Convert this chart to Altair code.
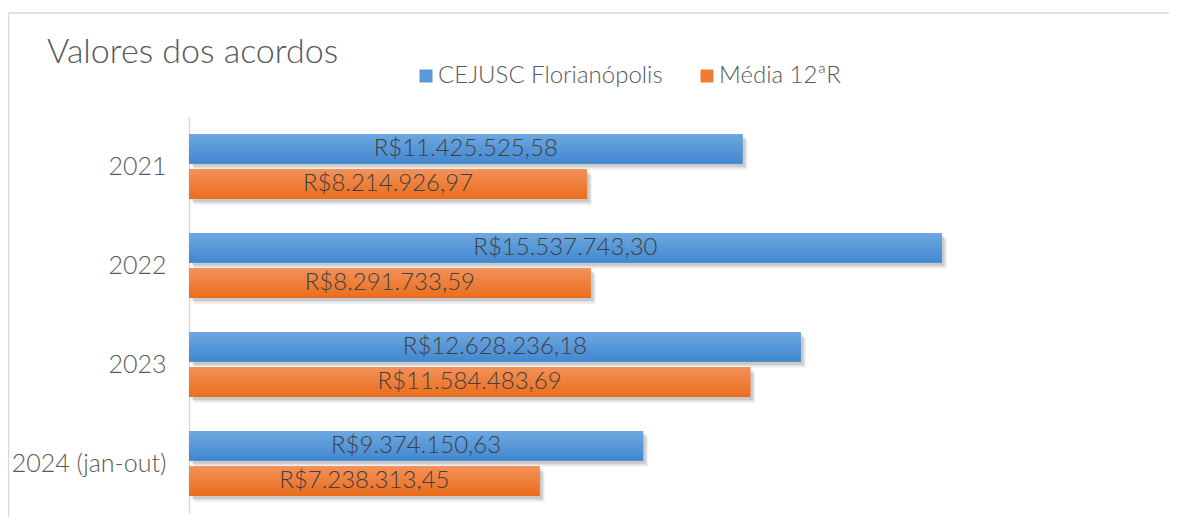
import altair as alt
import pandas as pd

years = ["2021", "2022", "2023", "2024 (jan-out)"]
series = ["CEJUSC Florianópolis", "Média 12ªR"]
cejusc = [11425525.58, 15537743.30, 12628236.18, 9374150.63]
media = [8214926.97, 8291733.59, 11584483.69, 7238313.45]
title_text = "Valores dos acordos"


def brl(v):
    s = f"{v:,.2f}".replace(",", "X").replace(".", ",").replace("X", ".")
    return "R$" + s


rows = []
for i, y in enumerate(years):
    rows.append({"ano": y, "serie": series[0], "valor": cejusc[i], "label": brl(cejusc[i])})
    rows.append({"ano": y, "serie": series[1], "valor": media[i], "label": brl(media[i])})
df = pd.DataFrame(rows)

FONT = "Lato"
WEIGHT = 300
GRAY = "#595959"
XMAX = 20000000

yenc = alt.Y("ano:N", sort=years, title=None,
             scale=alt.Scale(paddingInner=0.3434, paddingOuter=0.1717),
             axis=alt.Axis(ticks=False, labelPadding=23, labelFontSize=25, labelFont=FONT,
                           labelFontWeight=WEIGHT,
                           labelColor=GRAY, domainColor="#d9d9d9", domainWidth=1.5, grid=False))
yoff = alt.YOffset("serie:N", sort=series,
                   scale=alt.Scale(paddingInner=0.1538, paddingOuter=0))
xenc = alt.X("valor:Q", scale=alt.Scale(domain=[0, XMAX]), axis=None)

base = alt.Chart(df).encode(y=yenc, yOffset=yoff)

# soft shadows (per series, centred in band, offset down/right)
shadow_specs = [(5, 6, 0.05), (4, 4.5, 0.07), (2.5, 3, 0.10)]
shadows = []
for k, s in enumerate(series):
    center = -17.6 if k == 0 else 17.6
    for dx, dy, op in shadow_specs:
        shadows.append(
            alt.Chart(df).transform_filter(alt.datum.serie == s)
            .mark_bar(color="#000000", opacity=op, height=29.8, xOffset=dx, yOffset=center + dy)
            .encode(y=yenc, x=xenc)
        )

solid = base.mark_bar().encode(
    x=xenc,
    color=alt.Color("serie:N",
                    scale=alt.Scale(domain=series, range=["#5B9BD5", "#ED7D31"]),
                    legend=alt.Legend(title=None, orient="none", legendX=225, legendY=-53,
                                      direction="horizontal", symbolType="square",
                                      symbolSize=169, symbolStrokeWidth=0,
                                      labelFont=FONT, labelFontSize=24, labelColor=GRAY,
                                      labelFontWeight=WEIGHT, labelLimit=0,
                                      labelOffset=0, columnPadding=32)),
)

blue_grad = alt.Gradient(gradient="linear", x1=0, x2=0, y1=0, y2=1,
                         stops=[alt.GradientStop(offset=0, color="#6EA8E0"),
                                alt.GradientStop(offset=1, color="#4187CF")])
orange_grad = alt.Gradient(gradient="linear", x1=0, x2=0, y1=0, y2=1,
                           stops=[alt.GradientStop(offset=0, color="#F3915A"),
                                  alt.GradientStop(offset=1, color="#EA6D1C")])

g1 = base.mark_bar(color=blue_grad).encode(x=xenc).transform_filter(alt.datum.serie == series[0])
g2 = base.mark_bar(color=orange_grad).encode(x=xenc).transform_filter(alt.datum.serie == series[1])

text = base.mark_text(font=FONT, fontSize=24, fontWeight=WEIGHT, color="#404040",
                      align="center", baseline="middle").encode(
    x=alt.X("mid:Q", scale=alt.Scale(domain=[0, XMAX]), axis=None),
    text="label:N",
).transform_calculate(mid="datum.valor / 2")

frame_df = pd.DataFrame({"t": [title_text]})
top_line = alt.Chart(frame_df).mark_rule(color="#d9d9d9", strokeWidth=1.5).encode(
    x=alt.value(-180.5), x2=alt.value(980), y=alt.value(-104))
left_line = alt.Chart(frame_df).mark_rule(color="#d9d9d9", strokeWidth=1.5).encode(
    x=alt.value(-180.5), y=alt.value(-104), y2=alt.value(405))
title = alt.Chart(frame_df).mark_text(font=FONT, fontSize=34, fontWeight=WEIGHT, color=GRAY,
                                      align="left", baseline="alphabetic").encode(
    x=alt.value(-142), y=alt.value(-54), text="t:N")

chart = alt.layer(top_line, left_line, *shadows, solid, g1, g2, text, title).properties(
    width=969, height=396,
    autosize=alt.AutoSizeParams(type="none"),
    padding={"left": 181, "top": 109, "right": 11, "bottom": 4},
    background="white",
).configure_view(strokeWidth=0)

chart.save("out.html", embed_options={"renderer": "svg", "actions": False})
